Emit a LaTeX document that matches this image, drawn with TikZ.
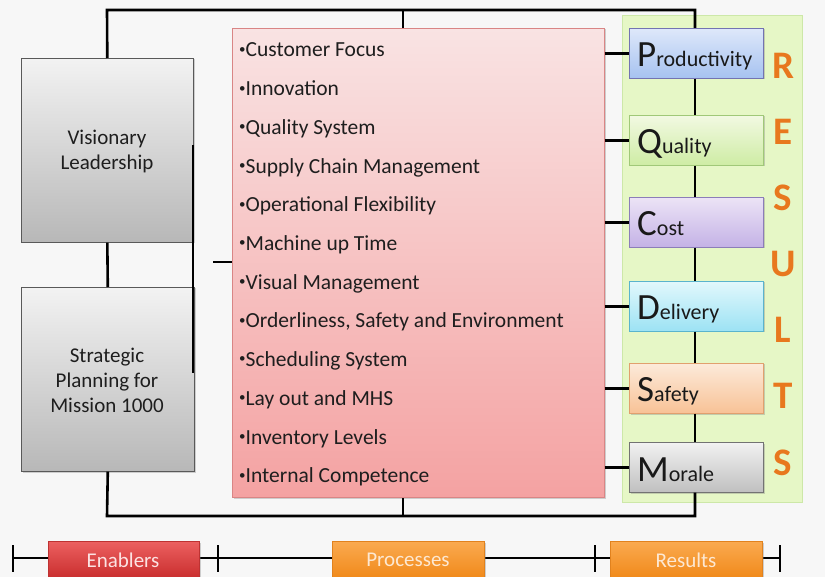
\documentclass[tikz,border=0pt]{standalone}
\usepackage{fontspec}
\setmainfont{Carlito}
\usetikzlibrary{shadows}
\definecolor{bg}{HTML}{F7F7F7}
\definecolor{txt}{HTML}{1E1E1E}
\definecolor{orng}{HTML}{E8781E}
\definecolor{pinkT}{HTML}{F9E3E3}
\definecolor{pinkB}{HTML}{F4A2A2}
\definecolor{pinkD}{HTML}{D98585}
\definecolor{grnP}{HTML}{E6F7C6}
\definecolor{grnD}{HTML}{CDE8A8}
\newcommand{\smbul}{\raisebox{0.17em}{\fontsize{13}{13}\selectfont•}}
\begin{document}
\begin{tikzpicture}[x=1pt,y=-1pt,
  conn/.style={line width=2.6pt,black},
  tick/.style={line width=2.6pt,black},
  shbox/.style={draw,line width=0.6pt,inner sep=0pt,anchor=north west,
    drop shadow={opacity=0.35,shadow xshift=1.2pt,shadow yshift=-1.2pt}},
  gbox/.style={shbox,draw=black!65,top color=black!5,bottom color=black!28},
  rbox/.style={shbox,minimum width=134pt,minimum height=50pt},
  lst/.style={anchor=base west,inner sep=0pt,text=txt,font=\fontsize{21.5}{21.5}\selectfont},
  rtxt/.style={anchor=base west,inner sep=0pt,text=black!90},
  big/.style={anchor=base,inner sep=0pt,text=orng,font=\fontsize{39}{39}\selectfont\bfseries},
  tbox/.style={shbox,minimum height=38pt},
  ttxt/.style={inner sep=0pt,font=\fontsize{21}{21}\selectfont},
]
\useasboundingbox[fill=bg] (0,0) rectangle (825,577);

% green results panel
\node[draw=grnD,fill=grnP,line width=0.8pt,minimum width=180pt,minimum height=487pt,anchor=north west,inner sep=0pt] (panel) at (622,15) {};

% left boxes
\node[gbox,minimum width=172pt,minimum height=184pt] (vl) at (21,58) {};
\node[gbox,minimum width=173pt,minimum height=184pt] (sp) at (21,287) {};
\node[align=center,text=txt,font=\fontsize{21}{25}\selectfont,inner sep=0pt] (vlt) at (107,151) {Visionary\\Leadership};
\node[align=center,text=txt,font=\fontsize{21}{25}\selectfont,inner sep=0pt] (spt) at (107,380) {Strategic\\Planning for\\Mission 1000};

% pink processes box
\node[shbox,draw=pinkD,top color=pinkT,bottom color=pinkB,minimum width=372pt,minimum height=469pt] (pink) at (232,28) {};
\foreach \t [count=\i] in {Customer Focus,Innovation,Quality System,Supply Chain Management,Operational Flexibility,Machine up Time,Visual Management,{Orderliness, Safety and Environment},Scheduling System,Lay out and MHS,Inventory Levels,Internal Competence}
  \node[lst] (l\i) at (239,{57+38.7*(\i-1)}) {\smbul\t};

% result boxes
\node[rbox,draw=blue!45!black!55,top color={rgb,255:red,222;green,232;blue,250},bottom color={rgb,255:red,166;green,194;blue,240}] (prod) at (629,28) {};
\node[rbox,draw={rgb,255:red,160;green,200;blue,120},top color={rgb,255:red,242;green,249;blue,226},bottom color={rgb,255:red,206;green,236;blue,164}] (qual) at (629,115) {};
\node[rbox,draw={rgb,255:red,140;green,125;blue,185},top color={rgb,255:red,236;green,228;blue,246},bottom color={rgb,255:red,196;green,178;blue,230}] (cost) at (629,197) {};
\node[rbox,draw={rgb,255:red,90;green,180;blue,205},top color={rgb,255:red,226;green,248;blue,252},bottom color={rgb,255:red,156;green,226;blue,244}] (del) at (629,281) {};
\node[rbox,draw={rgb,255:red,225;green,160;blue,110},top color={rgb,255:red,252;green,234;blue,218},bottom color={rgb,255:red,248;green,194;blue,150}] (saf) at (629,363) {};
\node[rbox,draw=black!55,top color=black!5,bottom color=black!25] (mor) at (629,442) {};

\node[rtxt] (tprod) at (637,67) {\fontsize{37}{37}\selectfont P\fontsize{22}{22}\selectfont roductivity};
\node[rtxt] (tqual) at (637,154) {\fontsize{37}{37}\selectfont Q\fontsize{22}{22}\selectfont uality};
\node[rtxt] (tcost) at (637,236) {\fontsize{37}{37}\selectfont C\fontsize{22}{22}\selectfont ost};
\node[rtxt] (tdel) at (637,320) {\fontsize{37}{37}\selectfont D\fontsize{22}{22}\selectfont elivery};
\node[rtxt] (tsaf) at (637,402) {\fontsize{37}{37}\selectfont S\fontsize{22}{22}\selectfont afety};
\node[rtxt] (tmor) at (637,481) {\fontsize{37}{37}\selectfont M\fontsize{22}{22}\selectfont orale};

% RESULTS letters
\foreach \c [count=\i] in {R,E,S,U,L,T,S}
  \node[big] (r\i) at (783,{79+66*(\i-1)}) {\c};

% frame connectors
\coordinate (tl) at (107,10);
\coordinate (tr) at (695,10);
\coordinate (tm) at (403,10);
\coordinate (bl) at (107,516);
\coordinate (br) at (695,516);
\coordinate (bm) at (403,516);
\draw[conn] (vl.north) -- (tl) -- (tr) -- (tr |- prod.north);
\draw[conn] (tm) -- (tm |- pink.north);
\draw[conn] (sp.south) -- (bl) -- (br) -- (br |- mor.south);
\draw[conn] (bm) -- (bm |- pink.south);
\draw[conn] (vl.south) -- (sp.north);
\coordinate (ra) at (193,145);
\coordinate (rb) at (193,373);
\draw[conn] (ra) -- (rb);
\coordinate (s1) at (213,262);
\draw[conn] (s1) -- (s1 -| pink.west);

\foreach \b in {prod,qual,cost,del,saf,mor}
  \draw[conn] (pink.east |- \b.west) -- (\b.west);
\draw[conn] (tr |- prod.south) -- (tr |- qual.north);
\draw[conn] (tr |- qual.south) -- (tr |- cost.north);
\draw[conn] (tr |- cost.south) -- (tr |- del.north);
\draw[conn] (tr |- del.south) -- (tr |- saf.north);
\draw[conn] (tr |- saf.south) -- (tr |- mor.north);

% bottom timeline
\coordinate (k1) at (13,558);
\coordinate (k2) at (218,558);
\coordinate (k3) at (595,558);
\coordinate (k4) at (780,558);
\draw[conn] (k1) -- (k4);
\foreach \k in {k1,k2,k3,k4}
  \draw[tick] ([yshift=13pt]\k) -- ([yshift=-14pt]\k);
\node[tbox,draw={rgb,255:red,190;green,50;blue,50},top color={rgb,255:red,236;green,96;blue,96},bottom color={rgb,255:red,200;green,44;blue,44},minimum width=151pt] (en) at (48,541) {};
\node[tbox,draw={rgb,255:red,225;green,130;blue,30},top color={rgb,255:red,250;green,170;blue,80},bottom color={rgb,255:red,240;green,136;blue,24},minimum width=152pt] (pr) at (332,541) {};
\node[tbox,draw={rgb,255:red,225;green,130;blue,30},top color={rgb,255:red,250;green,170;blue,80},bottom color={rgb,255:red,240;green,136;blue,24},minimum width=152pt] (re) at (610,541) {};
\node[ttxt,text={rgb,255:red,252;green,226;blue,226}] (ent) at (123,560) {Enablers};
\node[ttxt,text={rgb,255:red,253;green,232;blue,210}] (prt) at (408,560) {Processes};
\node[ttxt,text={rgb,255:red,253;green,232;blue,210}] (ret) at (686,560) {Results};
\end{tikzpicture}
\end{document}
